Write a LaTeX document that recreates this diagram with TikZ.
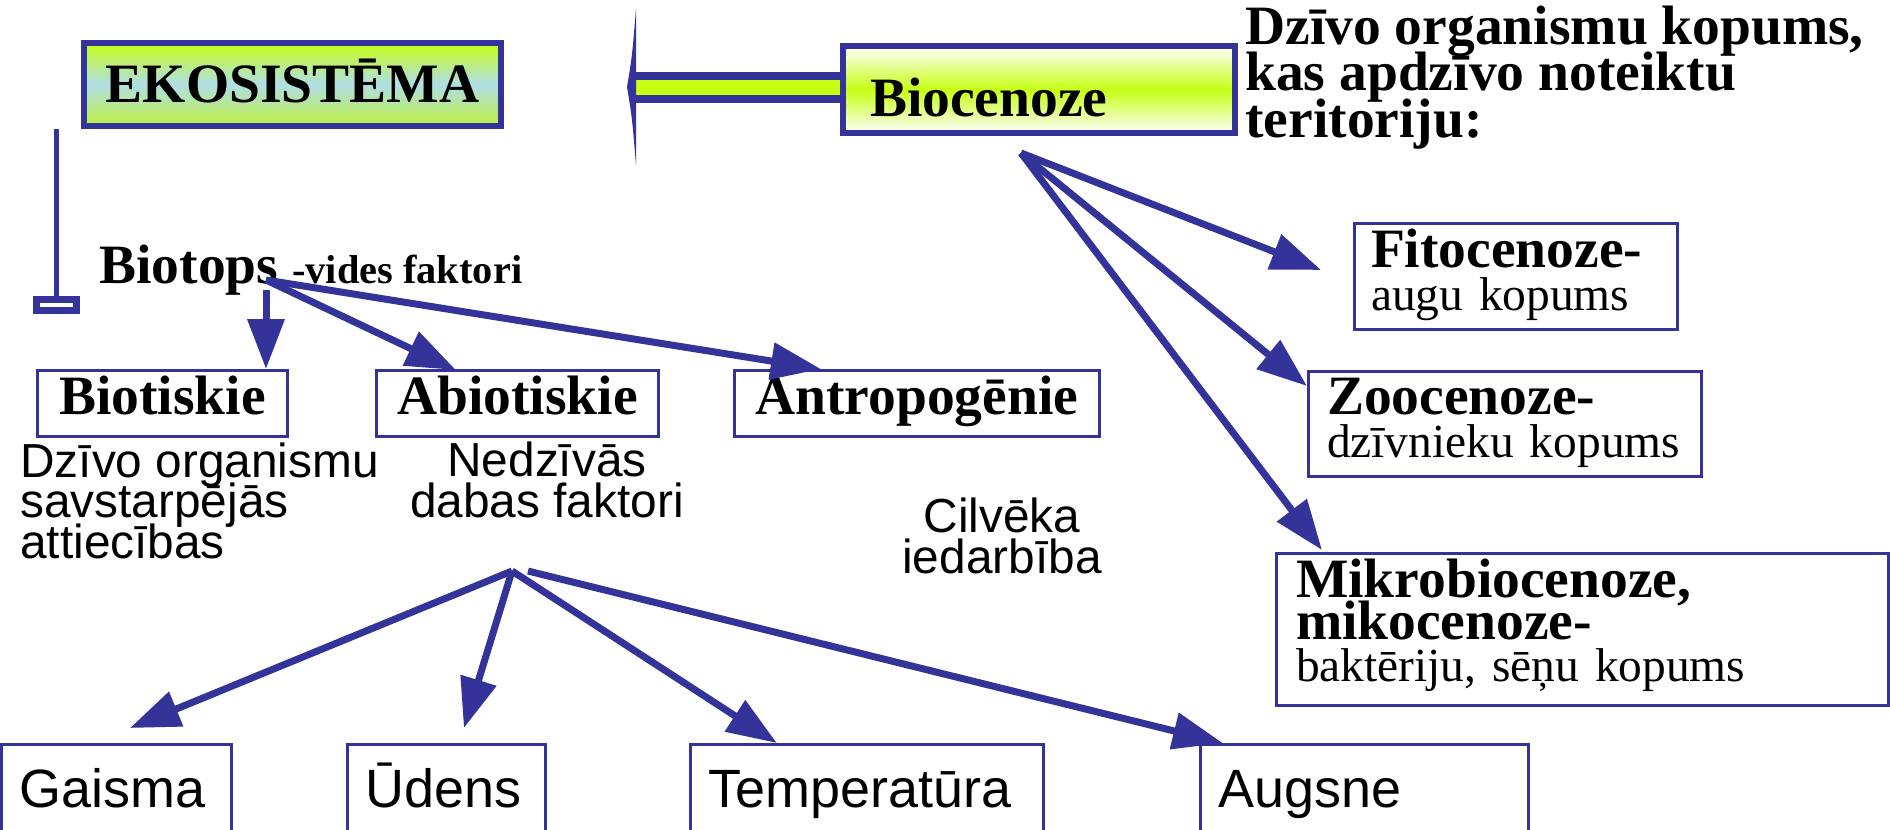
\documentclass[tikz,border=0pt]{standalone}
\usepackage{fontspec}
\setmainfont{Liberation Serif}
\setsansfont{Liberation Sans}
\usetikzlibrary{arrows.meta, positioning, calc}
\definecolor{ekoblue}{RGB}{51,51,153}
\definecolor{ekolime}{RGB}{198,255,20}
\definecolor{ekosky}{RGB}{176,222,230}
\definecolor{ekogreen}{RGB}{190,242,60}
\newcommand{\tightlines}{\lineskiplimit=-30pt\relax}
\newcommand{\bigb}{\fontsize{31.6pt}{26.2pt}\selectfont\bfseries}

\begin{document}
\begin{tikzpicture}[x=0.02cm, y=-0.02cm,
  bigbold/.style={font=\bigb\tightlines},
  thickbox/.style={draw=ekoblue, line width=0.12cm, anchor=north west, inner sep=0pt},
  thinbox/.style={draw=ekoblue, line width=0.06cm, fill=white, anchor=north west, inner sep=0pt},
  desc/.style={font=\sffamily\fontsize{27.2pt}{22.8pt}\selectfont\tightlines, inner sep=0pt},
  rbox/.style={thinbox, align=left, text height=0.8cm,
    font=\fontsize{27pt}{24pt}\selectfont\tightlines},
  factor/.style={thinbox, align=left, minimum height=2.52cm, inner xsep=0.37cm,
    text height=0.4cm, text depth=0.4cm, font=\sffamily\fontsize{30.7pt}{30pt}\selectfont},
  arr/.style={-{Triangle[length=1cm,width=0.72cm]}, line width=0.14cm, draw=ekoblue}]
  \useasboundingbox (0,0) rectangle (1890,829);
  \clip (0,0) rectangle (1890,829);

  % top row
  \node[thickbox, bigbold, minimum width=8.34cm, minimum height=1.66cm,
    top color=ekolime, bottom color=ekogreen, middle color=ekosky,
    text height=0.74cm, text depth=0pt] (eko) at (81,40) {EKOSISTĒMA};
  \node[thickbox, bigbold, minimum width=7.84cm, minimum height=1.74cm,
    top color=white, bottom color=white, middle color=ekolime,
    text width=6.76cm, align=left, inner xsep=0.54cm,
    text height=1.1cm, text depth=0pt] (bioc) at (840,43) {Biocenoze};
  \node[bigbold, align=left, anchor=base west, inner sep=0pt] (dzivo) at (1245,137)
    {Dzīvo organismu kopums,\\kas apdzīvo noteiktu\\teritoriju:};

  % hollow arrow to the left
  \coordinate (ekotip) at (627,87);
  \draw[ekoblue, line width=0.16cm, double=ekolime, double distance=0.3cm]
    (bioc.west |- ekotip) -- ($(ekotip)+(9,0)$);
  \fill[ekoblue] (ekotip) .. controls ($(ekotip)+(5,-30)$) .. ($(ekotip)+(9,-78)$)
    -- ($(ekotip)+(9,78)$) .. controls ($(ekotip)+(5,30)$) .. (ekotip);

  % bracket under EKOSISTEMA
  \node[draw=ekoblue, line width=0.14cm, fill=white, minimum width=0.8cm,
    minimum height=0.22cm, inner sep=0pt] (ekobar) at (56.5,305) {};
  \draw[ekoblue, line width=0.12cm] (ekobar.north) -- (ekobar.north |- eko.south);

  % biotops
  \node[bigbold, anchor=base west, inner sep=0pt] (biotops) at (99,283)
    {Biotops {\fontsize{23pt}{23pt}\selectfont -vides faktori}};
  \coordinate (btsrc) at (266,280);

  \node[thinbox, bigbold, minimum width=5cm, minimum height=1.32cm,
    text height=0.7cm, text depth=0.24cm] (bioti) at (36,369) {Biotiskie};
  \node[thinbox, bigbold, minimum width=5.64cm, minimum height=1.32cm,
    text height=0.7cm, text depth=0.24cm, right=1.72cm of bioti] (abioti) {Abiotiskie};
  \node[thinbox, bigbold, minimum width=7.3cm, minimum height=1.32cm,
    text height=0.7cm, text depth=0.24cm, right=1.46cm of abioti] (antrop) {Antropogēnie};

  \node[desc, align=left, anchor=base west] (biotdesc) at (20,558)
    {Dzīvo organismu\\savstarpējās\\attiecības};
  \node[desc, align=center, anchor=base] (abiodesc) at (547,517) {Nedzīvās\\dabas faktori};
  \node[desc, align=center, anchor=base] (antrdesc) at (1002,573) {Cilvēka\\iedarbība};

  \draw[arr] ($(btsrc)+(0,10)$) -- (bioti.north -| btsrc);
  \draw[arr] (btsrc) -- ($(abioti.north west)+(81,1)$);
  \draw[arr] (btsrc) -- ($(antrop.north west)+(88,0)$);

  % abiotic factors
  \coordinate (abisrc) at (512,571);
  \node[factor, minimum width=4.6cm, text width=3.86cm] (gaisma) at (0,743) {Gaisma};
  \node[factor, minimum width=3.96cm, text width=3.22cm, right=2.26cm of gaisma] (udens) {Ūdens};
  \node[factor, minimum width=7.06cm, text width=6.32cm, right=2.84cm of udens] (temp) {Temperatūra};
  \node[factor, minimum width=6.56cm, text width=5.82cm, right=3.08cm of temp] (augsne) {Augsne};

  \draw[arr] (abisrc) -- ($(gaisma.north)+(13.5,-15)$);
  \draw[arr] (abisrc) -- ($(udens.north)+(17.5,-15)$);
  \draw[arr] (abisrc) -- ($(temp.north)+(-90,0)$);
  \draw[arr] ($(abisrc)+(16,0)$) -- ($(augsne.north)+(-141.5,0)$);

  % biocenoze parts
  \node[rbox, minimum width=6.46cm, minimum height=2.12cm, text width=5.8cm,
    inner xsep=0.33cm, text depth=1.14cm] (fito) at (1353,222)
    {{\bigb Fitocenoze-}\\augu kopums};
  \node[rbox, minimum width=7.86cm, minimum height=2.1cm, text width=7.12cm,
    inner xsep=0.37cm, text depth=1.16cm] (zoo) at (1307,370)
    {{\bigb Zoocenoze-}\\dzīvnieku kopums};
  \node[rbox, minimum width=12.24cm, minimum height=3.04cm, text width=11.46cm,
    inner xsep=0.39cm, text depth=2.1cm] (mikro) at (1275,552)
    {{\bigb Mikrobiocenoze,\\mikocenoze-}\\baktēriju, sēņu kopums};

  \coordinate (bcsrc) at (1021,153);
  \draw[arr] (bcsrc) -- ($(fito.west)+(-32,-6.5)$);
  \draw[arr] (bcsrc) -- ($(zoo.north west)+(0,16)$);
  \draw[arr] (bcsrc) -- ($(mikro.north west)+(47,-2)$);
\end{tikzpicture}
\end{document}
